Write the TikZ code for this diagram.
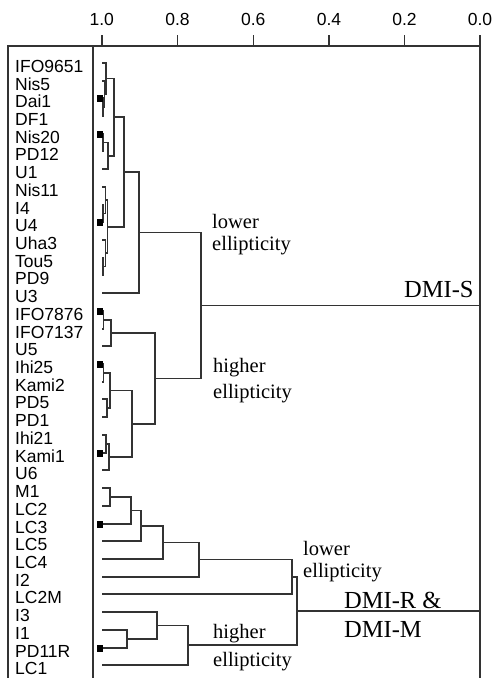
\documentclass[tikz,border=0pt]{standalone}
\usepackage{fontspec}
\setmainfont{Liberation Serif}
\setsansfont{Liberation Sans}
\usetikzlibrary{calc}
\newcommand\dmerge[4]{%
  \path (#1) -- (#2) coordinate[pos=0.5] (#4m);
  \coordinate (#4) at (perpendicular cs: horizontal line through={(#4m)}, vertical line through={(#3,0)});
  \draw[tree] (#1) -| (#4) |- (#2);
}
\begin{document}
\begin{tikzpicture}[x=1pt,y=-1pt,
  tree/.style={line width=1.6pt, draw=black!80},
  frame/.style={line width=1.6pt, draw=black!80},
  leaflab/.style={font=\sffamily\fontsize{17.5}{20}\selectfont, anchor=base west, inner sep=0pt},
  ticklab/.style={font=\sffamily\fontsize{17.5}{20}\selectfont, anchor=base, inner sep=0pt},
  ann/.style={font=\rmfamily\fontsize{20.5}{22}\selectfont, anchor=base west, inner sep=0pt},
  grp/.style={font=\rmfamily\fontsize{24.5}{26}\selectfont, anchor=base west, inner sep=0pt},
  sqmark/.style={fill=black}
]
\useasboundingbox (0,0) rectangle (493,678);

% frame and axis
\draw[frame] (8,678) -- (8,46) -- (480,46);
\draw[frame] (93,46) -- (93,678);
\draw[frame] (480,35) -- (480,678);
\coordinate (rx) at (480,0);
\foreach \v/\xx [count=\j] in {1.0/101.7, 0.8/177.5, 0.6/253.3, 0.4/329, 0.2/404.5, 0.0/480}{
  \draw[frame] (\xx,35) -- (\xx,46);
  \node[ticklab] (tick\j) at (\xx,25) {\v};
}

% leaves
\foreach \nm/\yy [count=\i from 0] in {IFO9651/66, Nis5/84, Dai1/101, DF1/119, Nis20/137, PD12/154, U1/172,
  Nis11/190, I4/208, U4/225, Uha3/243, Tou5/261, PD9/278, U3/296, IFO7876/314, IFO7137/332, U5/349,
  Ihi25/367, Kami2/385, PD5/402, PD1/420, Ihi21/438, Kami1/456, U6/473, M1/491, LC2/509, LC3/527,
  LC5/544, LC4/562, I2/580, LC2M/597, I3/615, I1/633, PD11R/651, LC1/668}{
  \node[leaflab] (lab\i) at (15,\yy+6.5) {\nm};
  \coordinate (l\i) at (102,\yy-3);
}

% DMI-S cluster
\dmerge{l2}{l3}{103}{na}
\dmerge{l1}{na}{104.5}{nb}
\dmerge{l0}{nb}{106}{nc}
\dmerge{l4}{l5}{103}{nd}
\dmerge{nd}{l6}{108}{ne}
\dmerge{nc}{ne}{114}{nf}
\dmerge{l8}{l9}{103}{ng}
\dmerge{l7}{ng}{105.5}{nh}
\dmerge{l11}{l12}{103}{ni}
\dmerge{l10}{ni}{105.5}{nj}
\dmerge{nh}{nj}{107.5}{nk}
\dmerge{nf}{nk}{124}{nm}
\dmerge{nm}{l13}{139}{nn}
\dmerge{l14}{l15}{103.5}{no}
\dmerge{no}{l16}{111}{np}
\dmerge{l17}{l18}{103.5}{nq}
\dmerge{l19}{l20}{107}{nr}
\dmerge{nq}{nr}{110}{ns}
\dmerge{l21}{l22}{106}{nt}
\dmerge{nt}{l23}{109}{nu}
\dmerge{ns}{nu}{132}{nv}
\dmerge{np}{nv}{155}{nw}
\dmerge{nn}{nw}{201}{nS}
\draw[tree] (nS) -- (nS -| rx);

% DMI-R & DMI-M cluster
\dmerge{l24}{l25}{110}{nA}
\dmerge{nA}{l26}{131}{nB}
\dmerge{nB}{l27}{141}{nC}
\dmerge{nC}{l28}{163}{nD}
\dmerge{nD}{l29}{199}{nE}
\dmerge{nE}{l30}{292}{nF}
\dmerge{l32}{l33}{127}{nG}
\dmerge{l31}{nG}{157}{nH}
\dmerge{nH}{l34}{188}{nI}
\dmerge{nF}{nI}{297}{nJ}
\draw[tree] (nJ) -- (nJ -| rx);

% markers
\foreach \k in {2,4,9,14,17,22,26,33}{
  \fill[sqmark] (l\k) ++(-5,-3.5) rectangle ++(6,7);
}

% annotations
\node[ann] (lo1) at (212,228) {lower};
\node[ann] (lo1b) at (212,250) {ellipticity};
\node[ann] (hi1) at (213,372) {higher};
\node[ann] (hi1b) at (213,398) {ellipticity};
\node[grp] (dmis) at (404,297) {DMI-S};
\node[ann] (lo2) at (303,555) {lower};
\node[ann] (lo2b) at (303,577) {ellipticity};
\node[grp] (dmir) at (344,608) {DMI-R \&};
\node[grp] (dmim) at (344,637) {DMI-M};
\node[ann] (hi2) at (213,638) {higher};
\node[ann] (hi2b) at (213,666) {ellipticity};
\end{tikzpicture}
\end{document}
